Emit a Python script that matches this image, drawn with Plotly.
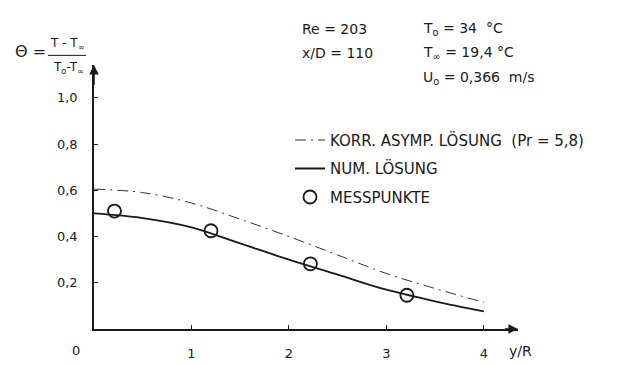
import plotly.graph_objects as go

# ---- data ----
yr_curve = [0.0, 0.5, 1.0, 1.5, 2.0, 2.5, 3.0, 3.5, 4.0]
theta_num = [0.50, 0.48, 0.44, 0.37, 0.30, 0.235, 0.17, 0.12, 0.076]
theta_asym = [0.605, 0.59, 0.545, 0.475, 0.40, 0.32, 0.24, 0.175, 0.115]
yr_meas = [0.21, 1.2, 2.22, 3.21]
theta_meas = [0.51, 0.425, 0.282, 0.146]

x_ticks = [1, 2, 3, 4]
x_ticktext = ["1", "2", "3", "4"]
y_ticks = [0.2, 0.4, 0.6, 0.8, 1.0]
y_ticktext = ["0,2", "0,4", "0,6", "0,8", "1,0"]

FONT = "DejaVu Sans"
INK = "#1a1a1a"

# plot-area geometry (pixels)
W, H = 631, 365
L, R, T, B = 86, 121, 57, 34
PW, PH = W - L - R, H - T - B


def px(xp):
    return (xp - L) / PW


def py(yp):
    return (H - B - yp) / PH


fig = go.Figure()

fig.add_trace(go.Scatter(
    x=yr_curve, y=theta_asym, mode="lines", line_shape="spline",
    line=dict(color="#333333", width=1, dash="11px,5px,2px,5px"),
    name="KORR. ASYMP. LÖSUNG\u00a0\u00a0(Pr = 5,8)", legendgroup="a"))
fig.add_trace(go.Scatter(
    x=yr_curve, y=theta_num, mode="lines", line_shape="spline",
    line=dict(color=INK, width=1.8),
    name="NUM. LÖSUNG", legendgroup="b"))
fig.add_trace(go.Scatter(
    x=yr_meas, y=theta_meas, mode="markers",
    marker=dict(symbol="circle-open", size=13, color=INK, line=dict(width=1.8)),
    name="MESSPUNKTE", legendgroup="c", cliponaxis=False))

fig.update_layout(
    width=W, height=H, margin=dict(l=L, r=R, t=T, b=B),
    paper_bgcolor="white", plot_bgcolor="white",
    font=dict(family=FONT, size=13, color=INK),
    showlegend=True,
    legend=dict(x=px(282), y=py(118), xanchor="left", yanchor="top",
                bgcolor="rgba(0,0,0,0)", font=dict(size=15),
                traceorder="grouped", tracegroupgap=6, itemwidth=30),
    xaxis=dict(range=[0, 4.35], showgrid=False, zeroline=False,
               showline=True, linecolor=INK, linewidth=1.6,
               tickvals=x_ticks, ticktext=x_ticktext, ticks="inside",
               ticklen=4, tickwidth=1.4, tickcolor=INK,
               ticklabelstandoff=12, tickfont=dict(size=13)),
    yaxis=dict(range=[0, 1.142], showgrid=False, zeroline=False,
               showline=True, linecolor=INK, linewidth=1.6,
               tickvals=y_ticks, ticktext=y_ticktext, ticks="inside",
               ticklen=4, tickwidth=1.4, tickcolor=INK,
               ticklabelstandoff=12, tickfont=dict(size=13)),
)

# axis arrows
fig.add_annotation(x=4.35, y=0, ax=4.2, ay=0, xref="x", yref="y", axref="x", ayref="y",
                   showarrow=True, arrowhead=2, arrowsize=1.2, arrowwidth=1.6,
                   arrowcolor=INK, text="")
fig.add_annotation(x=0, y=1.142, ax=0, ay=1.05, xref="x", yref="y", axref="x", ayref="y",
                   showarrow=True, arrowhead=2, arrowsize=1.2, arrowwidth=1.6,
                   arrowcolor=INK, text="")

def note(text, xp, yp, anchor="left", size=14):
    fig.add_annotation(x=px(xp), y=py(yp), xref="paper", yref="paper",
                       text=text, showarrow=False, xanchor=anchor, yanchor="middle",
                       font=dict(size=size, family=FONT, color=INK))

# axis labels
note("0", 68, 353, "center", 13)
note("y/R", 512, 354, "center", 14)

# theta definition
note("\u0398 =", 5, 43, "left", 16)
note("T - T<sub>\u221e</sub>", 59, 35, "center", 12)
note("T<sub>o</sub>-T<sub>\u221e</sub>", 60, 60, "center", 12)
fig.add_shape(type="line", xref="paper", yref="paper",
              x0=px(40), x1=px(78), y0=py(47), y1=py(47),
              line=dict(color=INK, width=1))

# parameter block
note("Re = 203", 292, 20)
note("x/D = 110", 292, 45)
note("T<sub>o</sub> = 34\u00a0\u00a0\u00b0C", 413, 20)
note("T<sub>\u221e</sub> = 19,4 \u00b0C", 413, 45)
note("U<sub>o</sub> = 0,366\u00a0\u00a0m/s", 413, 70)

fig.write_html("out.html")
